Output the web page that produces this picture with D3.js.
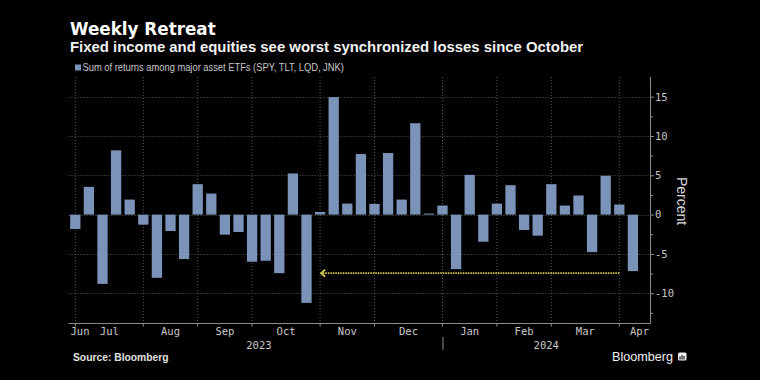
<!DOCTYPE html>
<html><head><meta charset="utf-8">
<script src="https://cdn.jsdelivr.net/npm/d3@7"></script>
<style>
html,body{margin:0;padding:0;background:#000;}
svg{display:block;}
</style></head><body>
<svg id="chart" width="760" height="380"></svg>
<script>
// ---------- data ----------
const weeks = [
  "2023-07-02","2023-07-09","2023-07-16","2023-07-23","2023-07-30",
  "2023-08-06","2023-08-13","2023-08-20","2023-08-27",
  "2023-09-03","2023-09-10","2023-09-17","2023-09-24",
  "2023-10-01","2023-10-08","2023-10-15","2023-10-22","2023-10-29",
  "2023-11-05","2023-11-12","2023-11-19","2023-11-26",
  "2023-12-03","2023-12-10","2023-12-17","2023-12-24","2023-12-31",
  "2024-01-07","2024-01-14","2024-01-21","2024-01-28",
  "2024-02-04","2024-02-11","2024-02-18","2024-02-25",
  "2024-03-03","2024-03-10","2024-03-17","2024-03-24","2024-03-31",
  "2024-04-07","2024-04-14"
];
const returns = [
  -1.83, 3.53, -8.81, 8.17, 1.91,
  -1.28, -8.04, -2.09, -5.66,
  3.87, 2.68, -2.55, -2.21,
  -6.00, -5.87, -7.45, 5.23, -11.23,
  0.34, 14.94, 1.40, 7.70,
  1.36, 7.83, 1.91, 11.62, 0.13,
  1.15, -6.94, 5.06, -3.45,
  1.40, 3.74, -1.96, -2.68,
  3.87, 1.15, 2.43, -4.77, 4.94,
  1.28, -7.19
];
const monthLabels = ["Jun","Jul","Aug","Sep","Oct","Nov","Dec","Jan","Feb","Mar","Apr"];
const yearLabels = ["2023","2024"];
const yTickValues = [-10, -5, 0, 5, 10, 15];
const yMinorTickValues = [-12.5, -7.5, -2.5, 2.5, 7.5, 12.5];
const annotationLevel = -7.45;       // dotted arrow level
const annotationFrom = "2024-04-07"; // arrow start week
const annotationTo = "2023-11-05";   // arrow tip week

const titleText = "Weekly Retreat";
const subtitleText = "Fixed income and equities see worst synchronized losses since October";
const legendText = "Sum of returns among major asset ETFs (SPY, TLT, LQD, JNK)";
const yTitle = "Percent";
const sourceText = "Source: Bloomberg";

// ---------- layout ----------
const plotLeft = 68.5, plotRight = 650, plotTop = 77, plotBottom = 323.5;
const barColor = "#7b93b9";
const gridColor = "#5a5a5a";
const axisColor = "#8c8c8c";
const labelColor = "#c8c8c8";
const monoFont = "'DejaVu Sans Mono', monospace";

const svg = d3.select("#chart");
svg.append("rect").attr("width", 760).attr("height", 380).attr("fill", "#000");

const parse = d3.timeParse("%Y-%m-%d");
const pad = 0.243;
const x = d3.scaleBand().domain(weeks).range([plotLeft, 639.7])
  .paddingInner(pad).paddingOuter(pad / 2);
const xc = d => x(d) + x.bandwidth() / 2;
const y = d3.scaleLinear().domain([-13.85, 17.5]).range([plotBottom, plotTop]);

// month start ticks (first week of each month)
const monthTicks = weeks.filter((w, i) => i === 0 || parse(w).getMonth() !== parse(weeks[i - 1]).getMonth());
const yearTicks = weeks.filter((w, i) => i === 0 || parse(w).getFullYear() !== parse(weeks[i - 1]).getFullYear());

// ---------- grid ----------
const grid = svg.append("g");
grid.selectAll("line.v").data(monthTicks).join("line")
  .attr("x1", d => xc(d)).attr("x2", d => xc(d))
  .attr("y1", plotTop).attr("y2", plotBottom)
  .attr("stroke", gridColor).attr("stroke-width", 1).attr("stroke-dasharray", "1,2");
grid.selectAll("line.h").data(yTickValues).join("line")
  .attr("x1", plotLeft).attr("x2", plotRight)
  .attr("y1", d => Math.round(y(d)) + 0.5).attr("y2", d => Math.round(y(d)) + 0.5)
  .attr("stroke", gridColor).attr("stroke-width", 1).attr("stroke-dasharray", "1,2");

// ---------- bars ----------
svg.append("g").selectAll("rect").data(weeks).join("rect")
  .attr("x", d => x(d))
  .attr("width", x.bandwidth())
  .attr("y", (d, i) => y(Math.max(0, returns[i])))
  .attr("height", (d, i) => Math.abs(y(returns[i]) - y(0)))
  .attr("fill", barColor);

// ---------- annotation arrow ----------
const ay = y(annotationLevel);
const ax0 = xc(annotationFrom), ax1 = xc(annotationTo) + 1;
const ann = svg.append("g").attr("stroke", "#d8cf4a").attr("fill", "none");
ann.append("line").attr("x1", ax0).attr("x2", ax1 + 2).attr("y1", ay).attr("y2", ay)
  .attr("stroke-width", 1.8).attr("stroke-dasharray", "1.5,1");
ann.append("path").attr("d", `M${ax1 + 4},${ay - 3.5}L${ax1},${ay}L${ax1 + 4},${ay + 3.5}`)
  .attr("stroke-width", 1.8);

// ---------- y axis (right) ----------
const yAxis = svg.append("g").attr("transform", `translate(${plotRight},0)`)
  .call(d3.axisRight(y).tickValues(yTickValues).tickSize(4).tickSizeOuter(0).tickPadding(1)
    .tickFormat(d => String(d)));
yAxis.select(".domain").attr("stroke", axisColor).attr("d", `M0.5,${plotTop}V${plotBottom}`);
yAxis.selectAll(".tick line").attr("stroke", axisColor);
yAxis.selectAll(".tick text").attr("fill", labelColor).attr("font-family", monoFont).attr("font-size", "10.5px");
const yMinor = svg.append("g").attr("transform", `translate(${plotRight},0)`)
  .call(d3.axisRight(y).tickValues(yMinorTickValues).tickSize(3).tickFormat(""));
yMinor.select(".domain").remove();
yMinor.selectAll(".tick line").attr("stroke", axisColor);

svg.append("text").attr("transform", `translate(677,201) rotate(90)`)
  .attr("text-anchor", "middle").attr("fill", "#d8d8d8")
  .attr("font-family", "'Liberation Sans', Arial, sans-serif").attr("font-size", "14px")
  .text(yTitle);

// ---------- x axis ----------
svg.append("line").attr("x1", plotLeft).attr("x2", plotRight + 0.5)
  .attr("y1", plotBottom).attr("y2", plotBottom).attr("stroke", axisColor).attr("stroke-width", 1);
const xAxis = svg.append("g").attr("transform", `translate(0,${plotBottom})`)
  .call(d3.axisBottom(x).tickValues(monthTicks).tickSize(3).tickFormat(""));
xAxis.select(".domain").remove();
xAxis.selectAll(".tick line").attr("stroke", axisColor);

const step = x.step();
const monthSpan = step * 4.35;
const mLabels = svg.append("g");
monthLabels.forEach((lab, k) => {
  const start = k === 0 ? xc(monthTicks[0]) - monthSpan : xc(monthTicks[k - 1]);
  const end = k < monthTicks.length ? xc(monthTicks[k]) : start + monthSpan;
  const t = mLabels.append("text").attr("y", 335)
    .attr("text-anchor", "middle").attr("fill", labelColor)
    .attr("font-family", monoFont).attr("font-size", "10.5px").text(lab);
  const w = t.node().getComputedTextLength();
  const cx = Math.min(Math.max((start + end) / 2, plotLeft + w / 2 + 2), plotRight - w / 2 - 1);
  t.attr("x", cx);
});

yearLabels.forEach((lab, k) => {
  const start = xc(yearTicks[k]);
  const end = k + 1 < yearTicks.length ? xc(yearTicks[k + 1]) : plotRight;
  svg.append("text").attr("x", (start + end) / 2).attr("y", 348.5)
    .attr("text-anchor", "middle").attr("fill", labelColor)
    .attr("font-family", monoFont).attr("font-size", "10.5px").text(lab);
  if (k > 0) {
    svg.append("line").attr("x1", start + 0.5).attr("x2", start + 0.5)
      .attr("y1", 337).attr("y2", 350).attr("stroke", axisColor);
  }
});

// ---------- titles & legend ----------
svg.append("text").attr("x", 70).attr("y", 35).attr("fill", "#fff")
  .attr("font-family", "'DejaVu Sans', sans-serif").attr("font-weight", "bold")
  .attr("font-size", "16.8px").text(titleText);
svg.append("text").attr("x", 70).attr("y", 52).attr("fill", "#f2f2f2")
  .attr("font-family", "'Liberation Sans', Arial, sans-serif").attr("font-weight", "bold")
  .attr("font-size", "14.9px").text(subtitleText);

svg.append("rect").attr("x", 75).attr("y", 64.5).attr("width", 6).attr("height", 6).attr("fill", barColor);
svg.append("text").attr("transform", "translate(82.5,71) scale(0.85,1)").attr("fill", labelColor)
  .attr("font-family", "'Liberation Sans', Arial, sans-serif")
  .attr("font-size", "11px").text(legendText);

// ---------- footer ----------
svg.append("text").attr("x", 73).attr("y", 361).attr("fill", "#e0e0e0")
  .attr("font-family", "'Liberation Sans', Arial, sans-serif").attr("font-weight", "bold")
  .attr("font-size", "10.3px").text(sourceText);
svg.append("text").attr("x", 612).attr("y", 360.5).attr("fill", "#f0f0f0")
  .attr("font-family", "'Liberation Sans', Arial, sans-serif")
  .attr("font-size", "12.6px").text("Bloomberg");
const logo = svg.append("g").attr("transform", "translate(678,352.5)");
logo.append("rect").attr("width", 8.5).attr("height", 8).attr("rx", 1.5).attr("fill", "#eee");
[[2, 4, 3], [4, 2.5, 4.5], [6, 3.5, 3.5]].forEach(([bx, by, bh]) =>
  logo.append("rect").attr("x", bx - 0.6).attr("y", by).attr("width", 1.2).attr("height", bh).attr("fill", "#222"));
</script>
</body></html>
